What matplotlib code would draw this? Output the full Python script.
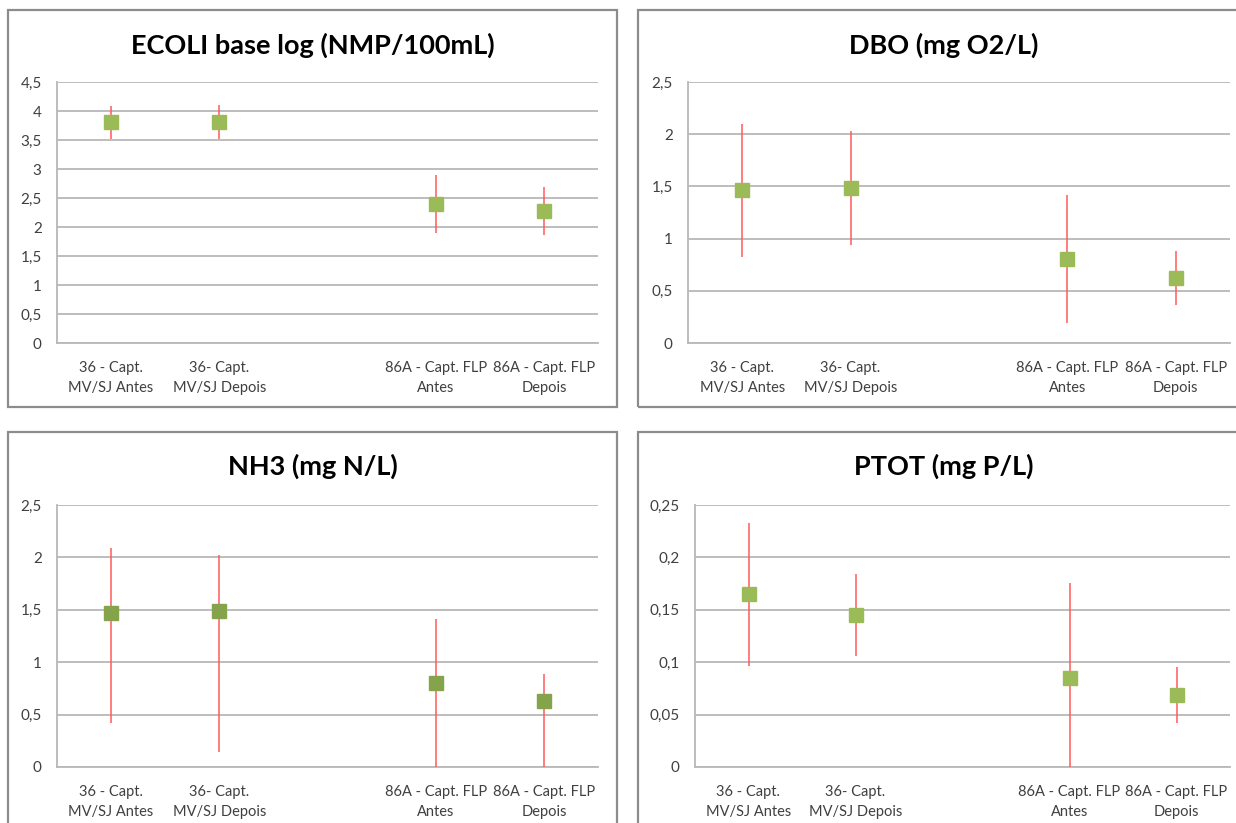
import numpy as np
import matplotlib
matplotlib.use("Agg")
import matplotlib.pyplot as plt
from matplotlib.patches import Rectangle
from matplotlib.ticker import FuncFormatter, MultipleLocator

plt.rcParams['font.family'] = ['Lato', 'DejaVu Sans']

categories = ["36 - Capt.\nMV/SJ Antes", "36- Capt.\nMV/SJ Depois", "",
              "86A - Capt. FLP\nAntes", "86A - Capt. FLP\nDepois"]

ecoli_mean = [3.81, 3.81, None, 2.39, 2.28]
ecoli_low = [3.51, 3.51, None, 1.90, 1.87]
ecoli_high = [4.09, 4.11, None, 2.89, 2.69]

dbo_mean = [1.47, 1.48, None, 0.80, 0.62]
dbo_low = [0.82, 0.94, None, 0.19, 0.36]
dbo_high = [2.10, 2.03, None, 1.42, 0.88]

nh3_mean = [1.47, 1.49, None, 0.80, 0.63]
nh3_low = [0.42, 0.14, None, 0.0, 0.0]
nh3_high = [2.09, 2.02, None, 1.41, 0.89]

ptot_mean = [0.165, 0.145, None, 0.085, 0.069]
ptot_low = [0.096, 0.106, None, 0.0, 0.042]
ptot_high = [0.233, 0.184, None, 0.176, 0.095]

W, H = 1236, 823
fig = plt.figure(figsize=(W / 100, H / 100), dpi=100)
fig.patch.set_facecolor('white')

def px_rect(l, t, r, b):
    return [l / W, 1 - b / H, (r - l) / W, (b - t) / H]

def fmt(v, pos):
    s = f"{v:.2f}".rstrip('0').rstrip('.')
    return s.replace('.', ',')

panels = [
    dict(title="ECOLI base log (NMP/100mL)", mean=ecoli_mean, low=ecoli_low, high=ecoli_high,
         ymax=4.5, step=0.5, ax=(57, 82, 598, 343), box=(8, 10, 617, 407), tx=313, ty=45,
         color='#9BBB59'),
    dict(title="DBO (mg O2/L)", mean=dbo_mean, low=dbo_low, high=dbo_high,
         ymax=2.5, step=0.5, ax=(688, 82, 1230, 343), box=(638, 10, 1250, 407), tx=944, ty=45,
         color='#9BBB59'),
    dict(title="NH3 (mg N/L)", mean=nh3_mean, low=nh3_low, high=nh3_high,
         ymax=2.5, step=0.5, ax=(57, 505, 598, 767), box=(8, 432, 617, 840), tx=313, ty=466,
         color='#85A34A'),
    dict(title="PTOT (mg P/L)", mean=ptot_mean, low=ptot_low, high=ptot_high,
         ymax=0.25, step=0.05, ax=(695, 505, 1230, 767), box=(638, 432, 1250, 840), tx=944, ty=466,
         color='#9BBB59'),
]

grid_c = '#B8B8B8'
txt_c = '#404040'

for p in panels:
    l, t, r, b = p['box']
    fig.patches.append(Rectangle((l / W, 1 - b / H), (r - l) / W, (b - t) / H,
                                 transform=fig.transFigure, fill=False,
                                 edgecolor='#8C8C8C', linewidth=1.6, zorder=0))
    ax = fig.add_axes(px_rect(*p['ax']))
    x = np.arange(len(categories))
    m = np.array([np.nan if v is None else v for v in p['mean']], dtype=float)
    lo = np.array([np.nan if v is None else v for v in p['low']], dtype=float)
    hi = np.array([np.nan if v is None else v for v in p['high']], dtype=float)
    ok = ~np.isnan(m)
    ax.vlines(x[ok], lo[ok], hi[ok], color='#FF5A5A', linewidth=1.1, zorder=3)
    ax.plot(x[ok], m[ok], linestyle='none', marker='s', markersize=10.5,
            color=p['color'], markeredgecolor=p['color'], zorder=4)
    ax.set_xlim(-0.5, len(categories) - 0.5)
    ax.set_ylim(0, p['ymax'])
    ax.yaxis.set_major_locator(MultipleLocator(p['step']))
    ax.yaxis.set_major_formatter(FuncFormatter(fmt))
    ax.set_xticks(x)
    ax.set_xticklabels(categories, linespacing=1.55)
    ax.tick_params(axis='both', length=0, labelcolor=txt_c)
    ax.tick_params(axis='y', pad=11, labelsize=11)
    ax.tick_params(axis='x', pad=13, labelsize=10.5)
    ax.grid(axis='y', color=grid_c, linewidth=1.3)
    ax.set_axisbelow(True)
    for s in ['top', 'right']:
        ax.spines[s].set_visible(False)
    for s in ['left', 'bottom']:
        ax.spines[s].set_color(grid_c)
        ax.spines[s].set_linewidth(1.3)
    ax.set_facecolor('none')
    fig.text(p['tx'] / W, 1 - p['ty'] / H, p['title'], ha='center', va='center',
             fontsize=19.5, fontweight='bold', color='black')

fig.savefig('out.png', dpi=100, facecolor='white')
